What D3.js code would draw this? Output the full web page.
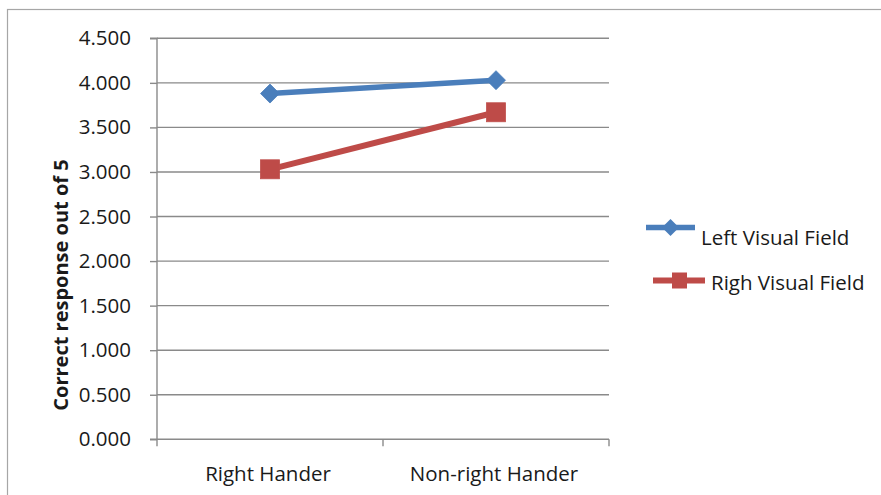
<!DOCTYPE html>
<html>
<head>
<meta charset="utf-8">
<script src="https://cdn.jsdelivr.net/npm/d3@7"></script>
<style>
  html, body { margin: 0; padding: 0; background: #fff; }
  svg text { font-family: "Open Sans", "Liberation Sans", sans-serif; fill: #1a1a1a; }
</style>
</head>
<body>
<svg id="chart" width="881" height="495"></svg>
<script>
// Mean correct responses (out of 5) by handedness and visual field
const categories = ["Right Hander", "Non-right Hander"];
const leftVisualField = [3.88, 4.03];
const rightVisualField = [3.03, 3.67];
const seriesNames = ["Left Visual Field", "Righ Visual Field"];
const yTicks = [0, 0.5, 1, 1.5, 2, 2.5, 3, 3.5, 4, 4.5];
const yTitle = "Correct response out of 5";

const svg = d3.select("#chart");
const plot = { left: 157, right: 609, top: 38.3, bottom: 439.3 };
const blue = "#4a7ebb", red = "#be4b48", grid = "#8a8a8a";

// chart frame
svg.append("rect")
  .attr("x", 7.5).attr("y", 9.5).attr("width", 900).attr("height", 500)
  .attr("fill", "none").attr("stroke", "#a6a6a6").attr("stroke-width", 1.2);

const x = d3.scaleBand().domain(categories).range([plot.left, plot.right]);
const y = d3.scaleLinear().domain([0, 4.5]).range([plot.bottom, plot.top]);

// horizontal gridlines
svg.append("g").selectAll("line").data(yTicks.filter(d => d > 0)).join("line")
  .attr("x1", plot.left).attr("x2", plot.right)
  .attr("y1", d => y(d)).attr("y2", d => y(d))
  .attr("stroke", grid).attr("stroke-width", 1.4);

// y axis
const yAxis = d3.axisLeft(y).tickValues(yTicks).tickFormat(d3.format(".3f"))
  .tickSize(7).tickPadding(19);
const gy = svg.append("g").attr("transform", `translate(${plot.left},0)`).call(yAxis);
gy.select(".domain").attr("stroke", grid).attr("stroke-width", 1.4).attr("d", `M-7,${plot.top}H0V${plot.bottom}H-7`);
gy.selectAll(".tick line").attr("stroke", grid).attr("stroke-width", 1.4);
gy.selectAll(".tick text").attr("font-size", 20.5).attr("fill", "#1a1a1a")
  .style("font-family", "'Open Sans', sans-serif");

// x axis with ticks at category boundaries
const gx = svg.append("g").attr("transform", `translate(0,${plot.bottom})`);
gx.append("line").attr("x1", plot.left).attr("x2", plot.right)
  .attr("stroke", grid).attr("stroke-width", 1.4);
const bounds = [plot.left].concat(categories.map(c => x(c) + x.bandwidth()));
gx.selectAll("line.tk").data(bounds).join("line").attr("class", "tk")
  .attr("x1", d => d).attr("x2", d => d).attr("y1", 0).attr("y2", 7)
  .attr("stroke", grid).attr("stroke-width", 1.4);
gx.selectAll("text").data(categories).join("text")
  .attr("x", d => x(d) + x.bandwidth() / 2 - 2).attr("y", 42)
  .attr("text-anchor", "middle").attr("font-size", 20.5).text(d => d);

// y axis title
svg.append("text")
  .attr("transform", `translate(68,285) rotate(-90)`)
  .attr("text-anchor", "middle").attr("font-size", 20).attr("font-weight", "bold")
  .text(yTitle);

const cx = d => x(d) + x.bandwidth() / 2;
const line = d3.line().x(d => cx(d.cat)).y(d => y(d.v));
const toPts = vals => categories.map((c, i) => ({ cat: c, v: vals[i] }));

const diamond = (s) => `M0,${-s}L${s},0L0,${s}L${-s},0Z`;

// Left visual field series
const lPts = toPts(leftVisualField);
svg.append("path").datum(lPts).attr("d", line).attr("fill", "none")
  .attr("stroke", blue).attr("stroke-width", 5.5).attr("stroke-linejoin", "round");
svg.append("g").selectAll("path").data(lPts).join("path")
  .attr("transform", d => `translate(${cx(d.cat)},${y(d.v)})`)
  .attr("d", diamond(9.5)).attr("fill", blue).attr("stroke", blue).attr("stroke-width", 0.8);

// Right visual field series
const rPts = toPts(rightVisualField);
svg.append("path").datum(rPts).attr("d", line).attr("fill", "none")
  .attr("stroke", red).attr("stroke-width", 6).attr("stroke-linejoin", "round");
svg.append("g").selectAll("rect").data(rPts).join("rect")
  .attr("x", d => cx(d.cat) - 9.5).attr("y", d => y(d.v) - 9.5)
  .attr("width", 19).attr("height", 19)
  .attr("fill", red).attr("stroke", "#c0504d").attr("stroke-width", 0.8);

// legend
const legend = svg.append("g");
const l1 = legend.append("g").attr("transform", "translate(646,227.5)");
l1.append("line").attr("x1", 0).attr("x2", 49).attr("stroke", blue).attr("stroke-width", 5.5);
l1.append("path").attr("transform", "translate(24.5,0)").attr("d", diamond(8.5)).attr("fill", blue);
l1.append("text").attr("x", 55).attr("y", 17.5).attr("font-size", 20.5).text(seriesNames[0]);

const l2 = legend.append("g").attr("transform", "translate(653,280.5)");
l2.append("line").attr("x1", 0).attr("x2", 52).attr("stroke", red).attr("stroke-width", 6);
l2.append("rect").attr("x", 19).attr("y", -8).attr("width", 15).attr("height", 16).attr("fill", red);
l2.append("text").attr("x", 58).attr("y", 9.5).attr("font-size", 20.5).text(seriesNames[1]);
</script>
</body>
</html>
